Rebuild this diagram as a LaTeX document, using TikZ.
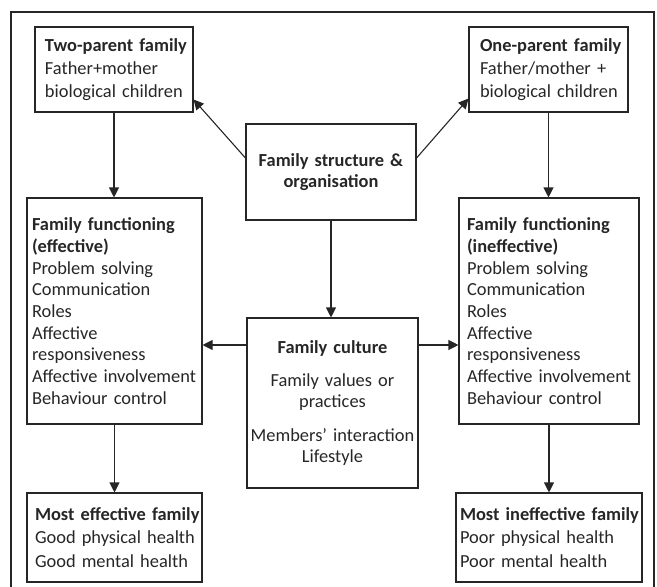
\documentclass[tikz,border=0pt]{standalone}
\usepackage{fontspec}
\setmainfont{Carlito}
\usetikzlibrary{arrows.meta}
\definecolor{ink}{HTML}{262626}
\newcommand{\ol}[1]{\mbox{#1}}
\begin{document}
\begin{tikzpicture}[x=1pt,y=-1pt,
  box/.style={draw=ink, line width=1.1pt, text=ink, inner ysep=2pt, font=\fontsize{18.4}{22}\selectfont},
  conn/.style={draw=ink, line width=1.1pt, -{Triangle[length=10pt,width=10pt]}},
  frame/.style={draw=ink, line width=1.1pt}]
\useasboundingbox (0,0) rectangle (657,587);
\draw[frame] (11,587) -- (11,12) -- (654,12) -- (654,587);

\node[box, minimum width=158pt, minimum height=85pt, inner xsep=10pt, text width=138pt, align=left,
  font=\fontsize{18.4}{23}\selectfont] (two) at (114,69.5)
  {\ol{\textbf{Two-parent family}}\\\ol{Father+mother}\\\ol{biological children}};
\node[box, minimum width=159pt, minimum height=85pt, inner xsep=11pt, text width=137pt, align=left,
  font=\fontsize{18.4}{23}\selectfont] (one) at (548.5,69.5)
  {\ol{\textbf{One-parent family}}\\\ol{Father/mother +}\\\ol{biological children}};
\node[box, minimum width=170pt, minimum height=96pt, inner xsep=4pt, text width=162pt, align=center,
  font=\fontsize{18.4}{21}\selectfont] (struct) at (331,172)
  {\textbf{Family structure \&}\\\textbf{organisation}};
\node[box, minimum width=175pt, minimum height=226pt, inner xsep=5pt, text width=165pt, align=left,
  font=\fontsize{18.4}{21.7}\selectfont] (leftf) at (114.5,311)
  {\ol{\textbf{Family functioning}}\\\ol{\textbf{(effective)}}\\\ol{Problem solving}\\\ol{Communication}\\\ol{Roles}\\\ol{Affective}\\\ol{responsiveness}\\\ol{Affective involvement}\\\ol{Behaviour control}};
\node[box, minimum width=180pt, minimum height=226pt, inner xsep=8pt, text width=164pt, align=left,
  font=\fontsize{18.4}{21.7}\selectfont] (rightf) at (549,311)
  {\ol{\textbf{Family functioning}}\\\ol{\textbf{(ineffective)}}\\\ol{Problem solving}\\\ol{Communication}\\\ol{Roles}\\\ol{Affective}\\\ol{responsiveness}\\\ol{Affective involvement}\\\ol{Behaviour control}};
\node[box, minimum width=171pt, minimum height=170pt, inner xsep=3pt, text width=165pt, align=center,
  font=\fontsize{18.4}{20.5}\selectfont] (culture) at (332.5,403)
  {\textbf{Family culture}\\[13pt]Family values or\\practices\\[14pt]\ol{Members’ interaction}\\Lifestyle};
\node[box, minimum width=175pt, minimum height=89pt, inner xsep=8pt, text width=159pt, align=left,
  font=\fontsize{18.4}{23.5}\selectfont] (eff) at (114.5,537.5)
  {\ol{\textbf{Most effective family}}\\\ol{Good physical health}\\\ol{Good mental health}};
\node[box, minimum width=186pt, minimum height=89pt, inner xsep=4pt, text width=178pt, align=left,
  font=\fontsize{18.4}{23.5}\selectfont] (ineff) at (549,537.5)
  {\ol{\textbf{Most ineffective family}}\\\ol{Poor physical health}\\\ol{Poor mental health}};

\coordinate (sl) at ([yshift=14pt]struct.west);
\coordinate (sr) at ([yshift=14pt]struct.east);
\coordinate (tl) at ([yshift=13pt]two.south east);
\coordinate (tr) at ([yshift=14pt]one.south west);
\coordinate (cl) at ([yshift=58pt]culture.west);
\coordinate (cr) at ([yshift=58pt]culture.east);

\draw[conn] (sl) -- (tl);
\draw[conn] (sr) -- (tr);
\draw[conn] (struct.south) -- (struct.south |- culture.north);
\draw[conn] (two.south) -- (two.south |- leftf.north);
\draw[conn] (one.south) -- (one.south |- rightf.north);
\draw[conn] (cl) -- (cl -| leftf.east);
\draw[conn] (cr) -- (cr -| rightf.west);
\draw[conn] (leftf.south) -- (leftf.south |- eff.north);
\draw[conn] (rightf.south) -- (rightf.south |- ineff.north);
\end{tikzpicture}
\end{document}
